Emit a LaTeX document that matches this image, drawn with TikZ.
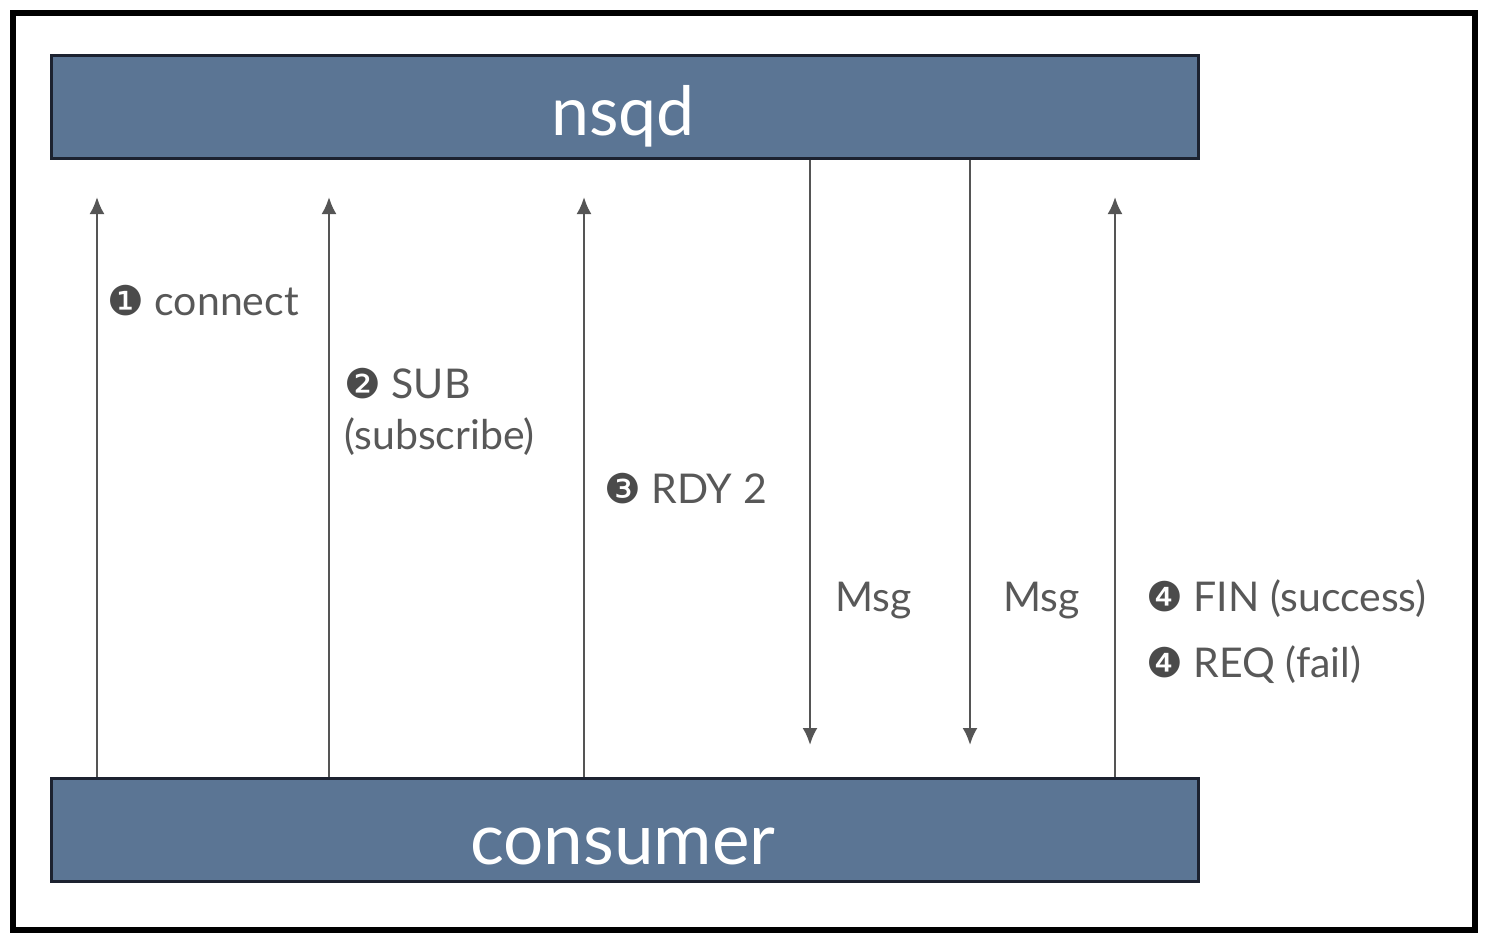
\documentclass[tikz,border=0pt]{standalone}
\usepackage{fontspec}
\setmainfont{Lato}
\newfontfamily\dingfont{DejaVu Sans}
\usetikzlibrary{arrows.meta}
\definecolor{boxfill}{HTML}{5B7594}
\definecolor{boxline}{HTML}{1C2230}
\definecolor{txtgray}{HTML}{585858}
\definecolor{arrgray}{HTML}{555555}
\newcommand{\cnum}[1]{{\dingfont\color{txtgray!85!black}#1}}
\tikzset{
  bar/.style={draw=boxline, line width=1.5pt, fill=boxfill, minimum width=573.5pt, minimum height=51.5pt, inner sep=0pt},
  bartext/.style={text=white, inner sep=0pt, anchor=base},
  lbl/.style={text=txtgray, font=\fontsize{20.5pt}{22pt}\selectfont, inner sep=0pt, anchor=base west},
  arr/.style={draw=arrgray, line width=1.2pt, -{Latex[length=8.5pt,width=7.5pt]}},
}
\begin{document}
\begin{tikzpicture}[x=0.5pt,y=-0.5pt]
\useasboundingbox (0,0) rectangle (1494,948);
\draw[line width=3pt, black] (13,13) rectangle (1475,930);
\node[bar] (nsqd) at (624.5,106.5) {};
\node[bar] (consumer) at (624.5,829.5) {};
\node[bartext, font=\fontsize{34pt}{36pt}\selectfont] (nsqdtxt) at (623,135) {nsqd};
\node[bartext, font=\fontsize{35.5pt}{38pt}\selectfont] (constxt) at (623,864) {consumer};
% free ends
\coordinate (t1) at (97,197);
\coordinate (t2) at (329,197);
\coordinate (t3) at (584,197);
\coordinate (t4) at (1115,197);
\coordinate (b1) at (810,745);
\coordinate (b2) at (970,745);
\draw[arr] (consumer.north -| t1) -- (t1);
\draw[arr] (consumer.north -| t2) -- (t2);
\draw[arr] (consumer.north -| t3) -- (t3);
\draw[arr] (consumer.north -| t4) -- (t4);
\draw[arr] (nsqd.south -| b1) -- (b1);
\draw[arr] (nsqd.south -| b2) -- (b2);
% labels
\node[lbl] (l1) at (107,315) {\cnum{❶} connect};
\node[lbl] (l2a) at (344,398) {\cnum{❷} SUB};
\node[lbl] (l2b) at (344,449) {(subscribe)};
\node[lbl] (l3) at (604,503) {\cnum{❸} RDY 2};
\node[lbl] (m1) at (835,611) {Msg};
\node[lbl] (m2) at (1003,611) {Msg};
\node[lbl] (l4a) at (1146,611) {\cnum{❹} FIN (success)};
\node[lbl] (l4b) at (1146,677) {\cnum{❹} REQ (fail)};
\end{tikzpicture}
\end{document}
